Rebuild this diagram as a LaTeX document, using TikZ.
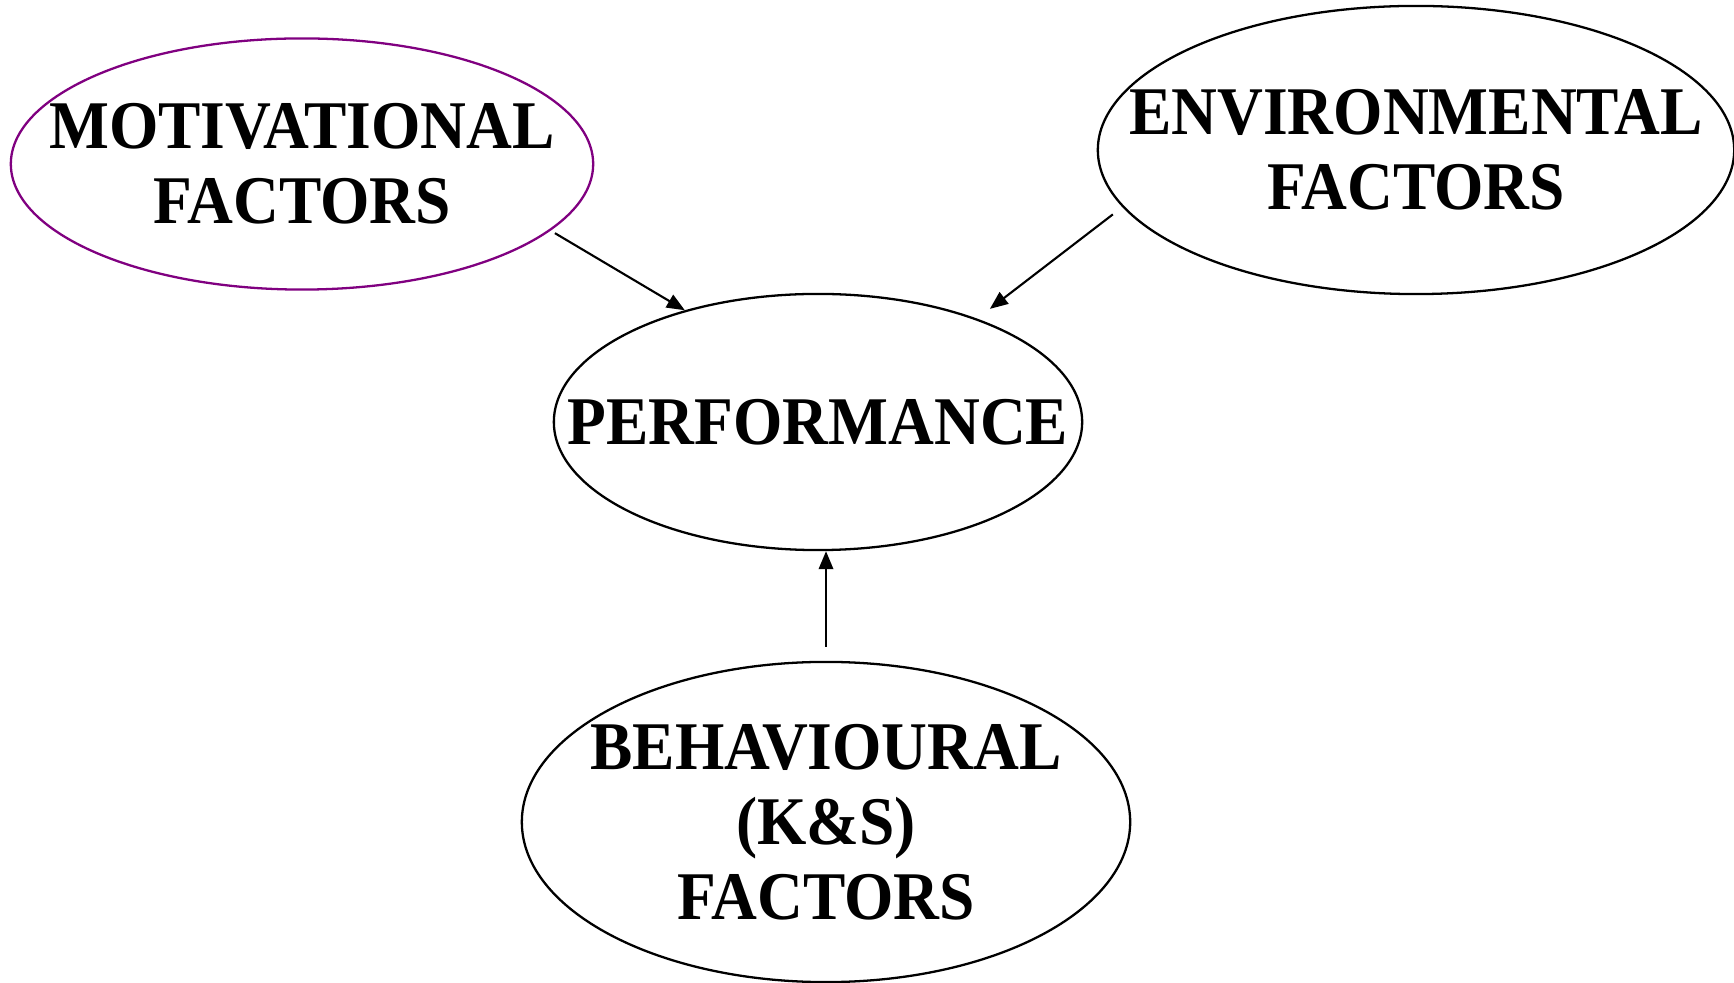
\documentclass[tikz,border=0pt]{standalone}
\usepackage{fontspec}
\setmainfont{Liberation Serif}[FakeStretch=0.93]
\usetikzlibrary{arrows.meta,shapes.geometric}
\definecolor{Ink}{HTML}{000000}
\definecolor{Plum}{HTML}{800080}
\tikzset{
  factor/.style={ellipse,draw=Ink,fill=white,line width=.65pt,inner sep=-2cm,align=center,
    font=\fontsize{19.4}{21.3}\selectfont\bfseries},
  plumfactor/.style={factor,draw=Plum},
  flow/.style={-{Triangle[length=1.8mm,width=1.45mm]},draw=Ink,line width=.6pt}
}
\begin{document}
\begin{tikzpicture}[x=0.01cm,y=-0.01cm]
    \useasboundingbox (0,0) rectangle (1734,983);
    \node[plumfactor,minimum width=5.82cm,minimum height=2.51cm] (mot) at (302,164) {MOTIVATIONAL\\FACTORS};
    \node[factor,minimum width=6.36cm,minimum height=2.88cm] (env) at (1416,150) {ENVIRONMENTAL\\FACTORS};
    \node[factor,minimum width=5.28cm,minimum height=2.56cm] (perf) at (818,422) {PERFORMANCE};
    \node[factor,minimum width=6.08cm,minimum height=3.2cm] (beh) at (826,822) {BEHAVIOURAL\\(K\&S)\\FACTORS};
    \draw[flow,shorten <=.05cm] (mot.-15) -- (perf.140);
    \draw[flow,shorten <=.12cm,shorten >=.16cm] (env.191) -- (perf.33);
    \draw[flow,shorten <=.14cm] (beh.north) -- (beh.north |- perf.south);
  \end{tikzpicture}
\end{document}
